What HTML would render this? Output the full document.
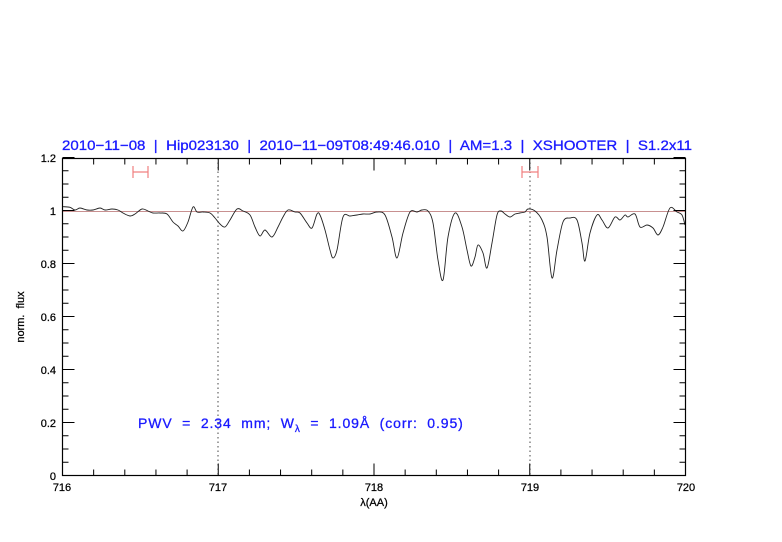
<!DOCTYPE html>
<html><head><meta charset="utf-8"><style>
html,body{margin:0;padding:0;background:#fff;width:782px;height:542px;overflow:hidden}
svg{display:block}
text{font-family:"Liberation Sans",sans-serif;white-space:pre}
</style></head><body>
<svg id="s" width="782" height="542" viewBox="0 0 782 542" xmlns="http://www.w3.org/2000/svg" xml:space="preserve">
<text x="62" y="150" fill="#1a1aff" font-size="14" stroke="#1a1aff" stroke-width="0.3" textLength="630" lengthAdjust="spacingAndGlyphs">2010−11−08  |  Hip023130  |  2010−11−09T08:49:46.010  |  AM=1.3  |  XSHOOTER  |  S1.2x11</text>
<line x1="62.5" y1="211.5" x2="685.5" y2="211.5" stroke="#c89090" stroke-width="1"/>
<line x1="218" y1="158" x2="218" y2="476" stroke="#444" stroke-width="1" stroke-dasharray="1.5,3"/>
<line x1="530" y1="158" x2="530" y2="476" stroke="#444" stroke-width="1" stroke-dasharray="1.5,3"/>
<g stroke="#f08080" stroke-width="1.2" fill="none">
<path d="M133,172H148M133,166V178M148,166V178"/>
<path d="M522,172H538M522,166V178M538,166V178"/>
</g>
<path id="curve" fill="none" stroke="#222" stroke-width="0.9"/>
<rect x="62.5" y="158.5" width="623" height="317" fill="none" stroke="#000" stroke-width="1.2"/>
<g id="ticks" stroke="#000" stroke-width="1"></g>
<g font-size="11" fill="#000" text-anchor="middle" stroke="#000" stroke-width="0.25">
<text x="62" y="491">716</text><text x="218" y="491">717</text><text x="374" y="491">718</text><text x="530" y="491">719</text><text x="686" y="491">720</text>
</g>
<g font-size="11" fill="#000" text-anchor="end" stroke="#000" stroke-width="0.25">
<text x="56" y="480">0</text><text x="56" y="427">0.2</text><text x="56" y="374">0.4</text><text x="56" y="321">0.6</text><text x="56" y="268">0.8</text><text x="56" y="215">1</text><text x="56" y="162">1.2</text>
</g>
<text x="374" y="506" font-size="11" text-anchor="middle" stroke="#000" stroke-width="0.25">λ(AA)</text>
<text transform="translate(24,317) rotate(-90)" font-size="11" text-anchor="middle" stroke="#000" stroke-width="0.25">norm.  flux</text>
<text x="138" y="428" fill="#1a1aff" stroke="#1a1aff" stroke-width="0.3" font-size="14" letter-spacing="0.9">PWV  =  2.34  mm;  W<tspan font-size="10" dy="4">λ</tspan><tspan dy="-4">  =  1.09Å  (corr:  0.95)</tspan></text>
</svg>
<script>
var g=document.getElementById('ticks'),d='';
for(var i=0;i<=20;i++){var x=62.5+i*31.15,L=(i%5==0)?12:6;d+='M'+x+',475.5v-'+L+'M'+x+',158.5v'+L;}
for(var j=0;j<=24;j++){var y=475.5-j*13.25,L=(j%4==0)?12:6;d+='M62.5,'+y+'h'+L+'M685.5,'+y+'h-'+L;}
var p=document.createElementNS('http://www.w3.org/2000/svg','path');p.setAttribute('d',d);g.appendChild(p);
var s="63,206.7 70,207.3 75,210 80,208 87,210 93,210 100,208 105,210 112,209 118,210 123,213 130,216 135,214 142,209 148,211 153,213 160,213 167,214 173,222 178,226 183,231 188,222 193,207 197,212 203,212 210,213 215,218 220,224 225,227 230,220 237,209 243,211 250,215 255,227 260,236 265,230 272,237 278,227 283,217 288,210 295,212 300,213 307,223 312,228 317,214 320,215 325,230 330,250 333,258 337,250 343,217 350,216 357,215 363,214 370,214 377,212 385,215 392,237 397,258 403,233 410,212 417,212 422,210 428,211 433,223 438,260 443,280 448,237 455,213 462,227 467,250 471,266 475,257 478,245 483,253 487,268 492,243 497,215 501,211 505,214 510,217 515,214 520,213 525,212 528,209 535,211 542,220 547,237 552,278 557,250 563,222 570,218 577,220 582,243 585,261 590,233 597,215 602,220 608,228 615,217 620,220 625,215 628,217 635,214 640,227 647,225 653,228 658,235 663,227 670,208 677,212 682,215 685,225";
var P=s.split(' ').map(function(t){return t.split(',').map(Number)});
var c='M'+P[0][0]+','+P[0][1];
for(var k=0;k<P.length-1;k++){var a=P[k-1]||P[k],b=P[k],e=P[k+1],f=P[k+2]||e;
c+='C'+(b[0]+(e[0]-a[0])/6)+','+(b[1]+(e[1]-a[1])/6)+' '+(e[0]-(f[0]-b[0])/6)+','+(e[1]-(f[1]-b[1])/6)+' '+e[0]+','+e[1];}
document.getElementById('curve').setAttribute('d',c);
</script>
</body></html>
